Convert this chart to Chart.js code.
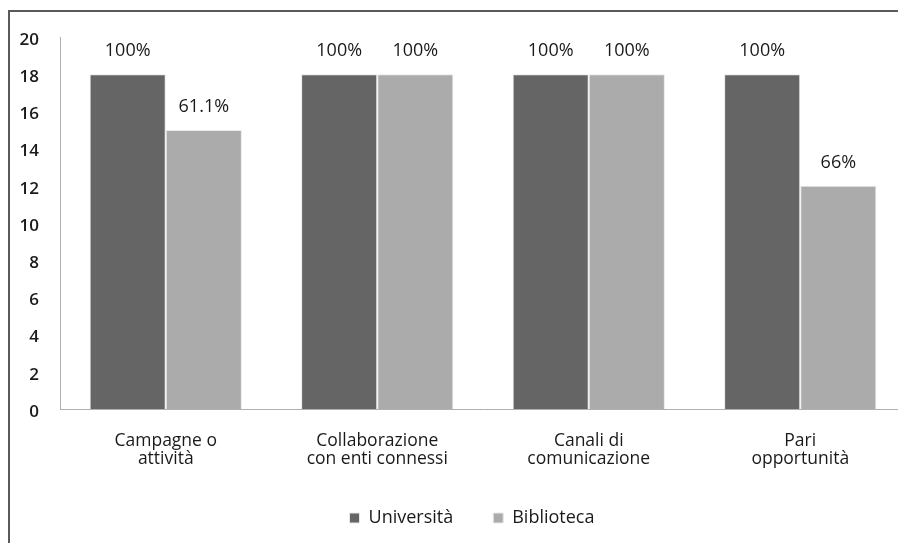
<!DOCTYPE html>
<html lang="it">
<head>
    <meta charset="UTF-8">
    <title>grafico</title>
    <script src="https://cdn.jsdelivr.net/npm/chart.js"></script>
    <style>
        html, body {
            margin: 0;
            padding: 0;
            background: #fff;
            overflow: hidden;
        }
        .frame {
            position: absolute;
            left: 8px;
            top: 10px;
            width: 1000px;
            height: 600px;
            border-left: 2px solid #5a5a5a;
            border-top: 2px solid #5a5a5a;
        }
        .chart-container {
            position: absolute;
            left: 0;
            top: 0;
            width: 906px;
            height: 543px;
        }
    </style>
</head>
<body>

<div class="frame"></div>
<div class="chart-container">
    <canvas id="myBarChart" width="906" height="543"></canvas>
</div>

<script>
    // Data for the bar chart
    var categories = [['Campagne o', 'attività'], ['Collaborazione', 'con enti connessi'], ['Canali di', 'comunicazione'], ['Pari', 'opportunità']];
    var universita = [18, 18, 18, 18];
    var biblioteca = [15, 18, 18, 12];
    var universitaLabels = ['100%', '100%', '100%', '100%'];
    var bibliotecaLabels = ['61.1%', '100%', '100%', '66%'];
    var yTicks = [0, 2, 4, 6, 8, 10, 12, 14, 16, 18, 20];

    var fontFamily = '"Open Sans", "Noto Sans", sans-serif';

    // draws the percentage text over each bar
    var barLabels = {
        id: 'barLabels',
        afterDatasetsDraw: function (chart) {
            var ctx = chart.ctx;
            var texts = [universitaLabels, bibliotecaLabels];
            ctx.save();
            ctx.font = '18px ' + fontFamily;
            ctx.fillStyle = '#1a1a1a';
            ctx.textAlign = 'center';
            ctx.textBaseline = 'middle';
            chart.data.datasets.forEach(function (ds, i) {
                var meta = chart.getDatasetMeta(i);
                meta.data.forEach(function (bar, j) {
                    ctx.fillText(texts[i][j], bar.x, bar.y - 23);
                });
            });
            ctx.restore();
        }
    };

    // legend in the original sits a bit right of centre
    var legendShift = {
        id: 'legendShift',
        afterLayout: function (chart) {
            chart.legend.left += 19;
            chart.legend.right += 19;
        }
    };

    var ctx = document.getElementById('myBarChart').getContext('2d');
    var myBarChart = new Chart(ctx, {
        type: 'bar',
        data: {
            labels: categories,
            datasets: [{
                label: 'Università',
                backgroundColor: '#656565',
                borderColor: '#e8e8e8',
                borderWidth: 1,
                data: universita
            }, {
                label: 'Biblioteca',
                backgroundColor: '#ababab',
                borderColor: '#e8e8e8',
                borderWidth: 1,
                data: biblioteca
            }]
        },
        plugins: [barLabels, legendShift],
        options: {
            responsive: false,
            animation: false,
            layout: {
                padding: {top: 37, left: 0, right: 0, bottom: 6}
            },
            datasets: {
                bar: {
                    categoryPercentage: 0.72,
                    barPercentage: 1.0
                }
            },
            scales: {
                x: {
                    afterFit: function (scale) {
                        scale.height = 60;
                    },
                    grid: {display: false, drawTicks: false},
                    border: {display: true, color: '#b0b0b0', width: 1},
                    ticks: {
                        color: '#1a1a1a',
                        font: {family: fontFamily, size: 17.5, lineHeight: '18px'},
                        padding: 23,
                        maxRotation: 0
                    }
                },
                y: {
                    min: 0,
                    max: 20,
                    afterFit: function (scale) {
                        scale.width = 60;
                    },
                    afterBuildTicks: function (scale) {
                        scale.ticks = yTicks.map(function (v) { return {value: v}; });
                    },
                    grid: {display: false, drawTicks: false},
                    border: {display: true, color: '#b0b0b0', width: 1},
                    ticks: {
                        color: '#1a1a1a',
                        font: {family: fontFamily, size: 17, weight: '600'},
                        padding: 21,
                        labelOffset: 3
                    }
                }
            },
            plugins: {
                tooltip: {enabled: false},
                legend: {
                    position: 'bottom',
                    labels: {
                        color: '#1a1a1a',
                        font: {family: fontFamily, size: 18},
                        boxWidth: 10,
                        boxHeight: 10,
                        padding: 40
                    }
                }
            }
        }
    });
</script>
</body>
</html>
